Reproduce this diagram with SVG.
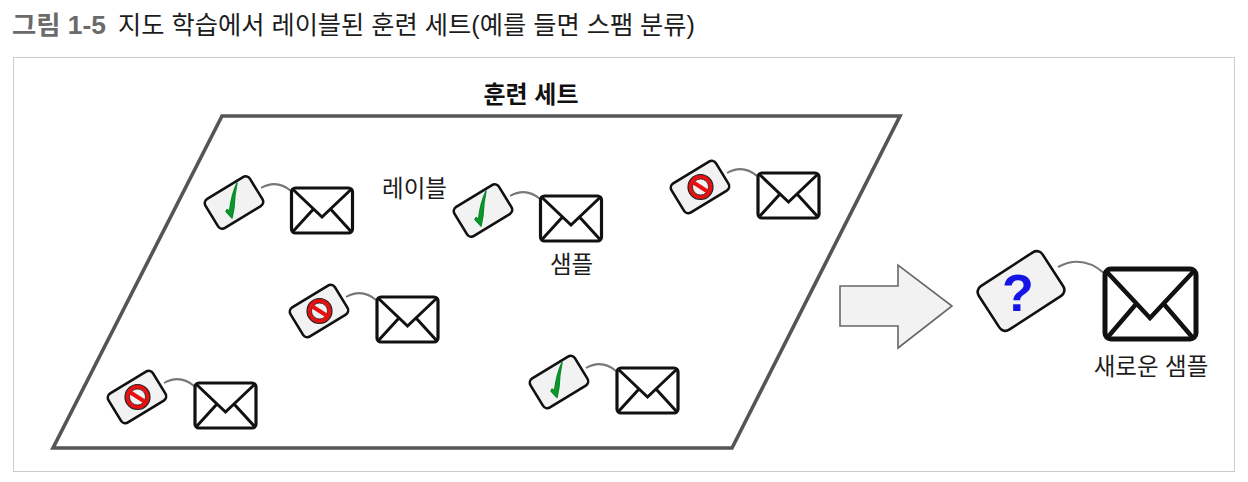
<svg xmlns="http://www.w3.org/2000/svg" width="1248" height="482" viewBox="0 0 1248 482">
<style>
text{font-family:"Liberation Sans","Noto Sans CJK KR",sans-serif;fill:#1c1c1c}
.l{font-size:23.500px}
.tag{fill:#f2f2f2;stroke:#111;stroke-width:2.600}
.env{fill:#fff;stroke:#111;stroke-width:3.200;stroke-linejoin:round}
.flap{fill:none;stroke:#111;stroke-width:3;stroke-linejoin:miter}
.cord{fill:none;stroke:#777;stroke-width:2}
</style>
<defs>
<g id="envelope">
<rect class="env" x="0" y="0" width="61" height="45" rx="4"/>
<path class="flap" d="M1 1L30.500 29L60 1M1 44L22 21M60 44L39 21"/>
</g>
<g id="check"><path d="M-8 9L-2 15.500L0 5Q0.500-8 3-19.500Q-2.500-8-4.500 8.500L-7 7Z" fill="#0a9a2a" stroke="#0a8a2a" stroke-width="1.400" stroke-linejoin="round"/></g>
<g id="stop"><circle r="12.500" fill="#e81010" stroke="#222" stroke-width="1.200"/><circle r="8" fill="#f2f2f2" stroke="#222" stroke-width=".8"/><path d="M-7-4.500L7 4.500" stroke="#e81010" stroke-width="4"/></g>
<g id="tagbase"><rect class="tag" x="-26" y="-17" width="52" height="34" rx="5" transform="rotate(-31.500)"/></g>
</defs>
<rect x="13.500" y="57.500" width="1221" height="414" fill="#fff" stroke="#ccc" stroke-width="1"/>
<text x="12" y="34" font-size="25" font-weight="700" textLength="94" lengthAdjust="spacingAndGlyphs" style="fill:#6a6a6a">그림 1-5</text>
<text x="118" y="34" font-size="25" textLength="577" lengthAdjust="spacingAndGlyphs">지도 학습에서 레이블된 훈련 세트(예를 들면 스팸 분류)</text>
<g id="training-set">
<path d="M222 116L900 116L732 448L53 448Z" fill="#fff" stroke="#555" stroke-width="3.600" stroke-linejoin="miter"/>
<text x="531" y="103" font-size="24" font-weight="700" text-anchor="middle" style="fill:#111">훈련 세트</text>
</g>
<g id="connectors">
<path class="cord" d="M261 188Q277 179 291 191"/>
<path class="cord" d="M510 196Q526 187 540 199"/>
<path class="cord" d="M727 173Q743 164 757 176"/>
<path class="cord" d="M346 297Q362 288 376 300"/>
<path class="cord" d="M164 383Q180 374 194 386"/>
<path class="cord" d="M586 368Q602 359 616 371"/>
<path class="cord" d="M1058 267Q1082 254 1104 273"/>
</g>
<g id="item-1"><use href="#tagbase" x="234" y="202.500"/><use href="#check" x="234" y="202.500"/><use href="#envelope" x="291.500" y="188"/></g>
<g id="item-2"><use href="#tagbase" x="483" y="210.500"/><use href="#check" x="483" y="210.500"/><use href="#envelope" x="540.500" y="196"/></g>
<g id="item-3"><use href="#tagbase" x="700" y="187"/><use href="#stop" x="700.500" y="187"/><use href="#envelope" x="758" y="173"/></g>
<g id="item-4"><use href="#tagbase" x="319" y="311"/><use href="#stop" x="319.500" y="311"/><use href="#envelope" x="377" y="297"/></g>
<g id="item-5"><use href="#tagbase" x="137" y="397"/><use href="#stop" x="137.500" y="397"/><use href="#envelope" x="195" y="383"/></g>
<g id="item-6"><use href="#tagbase" x="559" y="382"/><use href="#check" x="559" y="382"/><use href="#envelope" x="617" y="368"/></g>
<text class="l" x="414.500" y="197" text-anchor="middle">레이블</text>
<text class="l" x="571.500" y="273" text-anchor="middle">샘플</text>
<g id="arrow"><path d="M840 286L898 286L898 265L952 306L898 348L898 326L840 326Z" fill="#f2f2f2" stroke="#666" stroke-width="1.600"/></g>
<g id="new-sample">
<rect x="-38" y="-26" width="76" height="52" rx="7" transform="translate(1021,291) rotate(-33)" fill="#f2f2f2" stroke="#111" stroke-width="2.600"/>
<text x="1018" y="311" font-size="52" font-weight="700" text-anchor="middle" style="fill:#1414e6">?</text>
<rect x="1105" y="269" width="91" height="70" rx="6" fill="#fff" stroke="#111" stroke-width="5"/>
<path d="M1106 271L1150 318L1194 271M1107 338L1137 303M1193 338L1163 303" fill="none" stroke="#111" stroke-width="4.500"/>
<text class="l" x="1151" y="375" text-anchor="middle">새로운 샘플</text>
</g>
</svg>
